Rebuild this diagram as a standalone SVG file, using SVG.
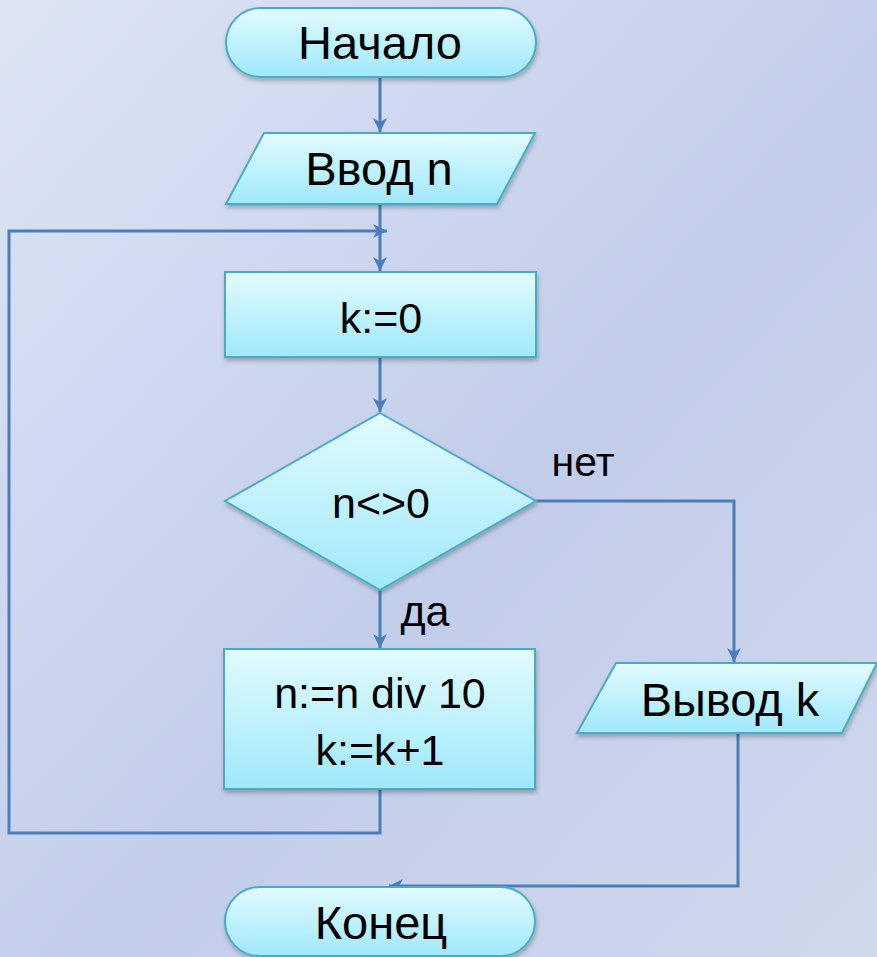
<svg xmlns="http://www.w3.org/2000/svg" width="877" height="957" viewBox="0 0 877 957">
<defs>
<linearGradient id="bg" x1="0" y1="0" x2="1" y2="1">
<stop offset="0" stop-color="#dde5f4"/>
<stop offset="0.55" stop-color="#c2cdea"/>
<stop offset="1" stop-color="#d0d8ea"/>
</linearGradient>
<linearGradient id="nodefill" x1="0" y1="0" x2="0" y2="1">
<stop offset="0" stop-color="#e2fbff"/>
<stop offset="1" stop-color="#9fe8fb"/>
</linearGradient>
<filter id="sh" x="-10%" y="-10%" width="120%" height="130%">
<feDropShadow dx="1" dy="3" stdDeviation="2" flood-color="#000" flood-opacity="0.25"/>
</filter>
<marker id="arr" markerWidth="14" markerHeight="14" viewBox="0 0 14 14" refX="14" refY="7" orient="auto" markerUnits="userSpaceOnUse">
<path d="M0,0 L14,7 L0,14 L4,7 z" fill="#4a7ebb"/>
</marker>
</defs>
<style>
.node{fill:url(#nodefill);stroke:#4aacc5;stroke-width:2;filter:url(#sh)}
.t{font-family:"Liberation Sans",Arial,sans-serif;font-size:43px;fill:#000;text-anchor:middle}
.cy{font-size:47px}
.c{fill:none;stroke:#4a7ebb;stroke-width:3}
</style>
<rect width="877" height="957" fill="url(#bg)"/>
<g id="connectors">
<line class="c" x1="380" y1="77" x2="380" y2="132" marker-end="url(#arr)"/>
<line class="c" x1="380" y1="204" x2="380" y2="271" marker-end="url(#arr)"/>
<polyline class="c" points="380,789 380,833 9,833 9,231 387,231" marker-end="url(#arr)"/>
<line class="c" x1="380" y1="357" x2="380" y2="412" marker-end="url(#arr)"/>
<line class="c" x1="380" y1="590" x2="380" y2="648" marker-end="url(#arr)"/>
<polyline class="c" points="536,501 734,501 734,662" marker-end="url(#arr)"/>
<polyline class="c" points="738,733 738,886 389,886" marker-end="url(#arr)"/>
</g>
<g id="start">
<rect class="node" x="226" y="8" width="310" height="69" rx="34.5"/>
<text class="t cy" x="380" y="59">Начало</text>
</g>
<g id="input">
<polygon class="node" points="264,133 535,133 497,204 226,204"/>
<text class="t cy" x="379" y="185">Ввод n</text>
</g>
<g id="init">
<rect class="node" x="225" y="272" width="311" height="85"/>
<text class="t" x="381" y="333">k:=0</text>
</g>
<g id="cond">
<polygon class="node" points="380,413 536,501 380,590 225,501"/>
<text class="t" x="381" y="518">n&lt;&gt;0</text>
<text class="t" x="583" y="476" style="font-size:41px">нет</text>
<text class="t" x="425" y="626">да</text>
</g>
<g id="body">
<rect class="node" x="224" y="649" width="311" height="140"/>
<text class="t" x="380" y="708">n:=n div 10</text>
<text class="t" x="380" y="765">k:=k+1</text>
</g>
<g id="output">
<polygon class="node" points="616,663 877,663 842,733 577,733"/>
<text class="t cy" x="730" y="716">Вывод k</text>
</g>
<g id="end">
<rect class="node" x="225" y="887" width="310" height="69" rx="34.5"/>
<text class="t cy" x="381" y="939">Конец</text>
</g>
</svg>
